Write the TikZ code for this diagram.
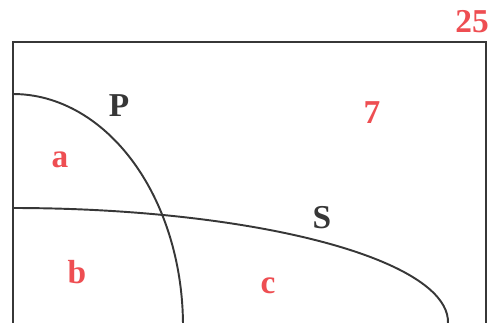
\documentclass[tikz,border=0pt]{standalone}
\usepackage{fontspec}
\setmainfont{Liberation Serif}
\definecolor{setred}{RGB}{238, 78, 82}
\definecolor{setink}{RGB}{55, 55, 55}
\usepackage{tikz}
\usetikzlibrary{positioning}

\tikzset{
  setname/.style={font=\fontsize{19}{21}\selectfont\bfseries, text=setink, inner sep=0pt},
  regionlbl/.style={font=\fontsize{19}{21}\selectfont\bfseries, text=setred, inner sep=0pt},
  countlbl/.style={font=\fontsize{19}{21}\selectfont\bfseries, text=setred, inner sep=0pt}
}

\begin{document}
\begin{tikzpicture}[x=0.02cm, y=0.02cm]
  \useasboundingbox (0,0) rectangle (489,322);
  \clip (0,0) rectangle (489,322);

  % Universe
  \draw[setink, line width=1.4pt] (13,-5) -- (13,280) -- (486,280) -- (486,-5);
  \node[countlbl] (total) at (472,300) {25};

  % Sets
  \draw[setink, line width=1.1pt] (13,228) arc[start angle=90, end angle=-5, x radius=170, y radius=232];
  \draw[setink, line width=1.1pt] (13,114) arc[start angle=90, end angle=-5, x radius=435, y radius=114];
  \node[setname] (setP) at (119,216) {P};
  \node[setname] (setS) at (322,104) {S};

  % Regions
  \node[countlbl] (outside) at (372,209) {7};
  \node[regionlbl] (rega) at (60,162) {a};
  \node[regionlbl] (regb) at (77,50) {b};
  \node[regionlbl] (regc) at (268,36) {c};
\end{tikzpicture}
\end{document}
